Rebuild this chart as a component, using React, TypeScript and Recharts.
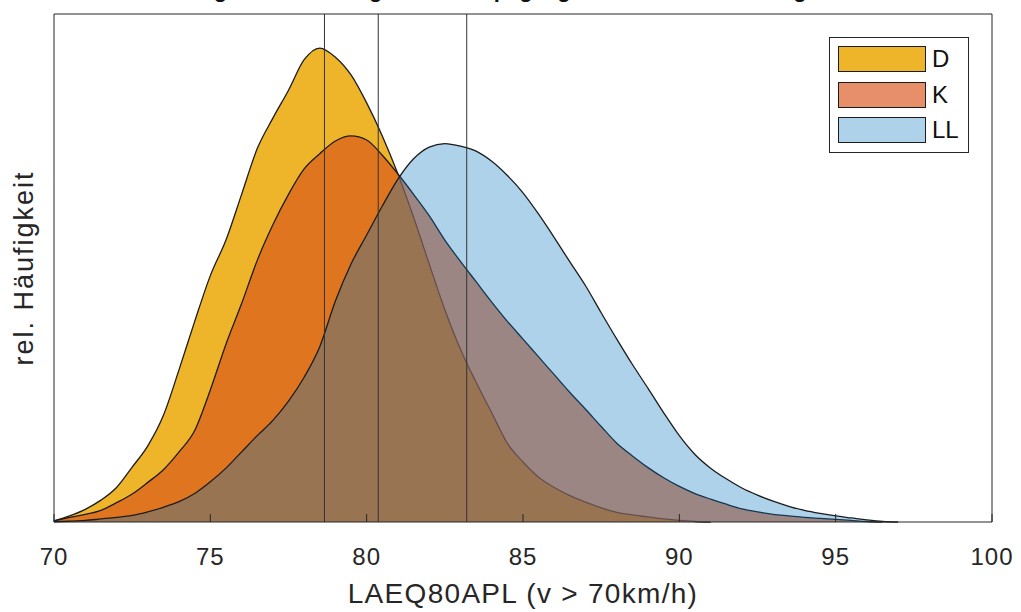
import React from 'react';
import {
  AreaChart,
  Area,
  XAxis,
  YAxis,
  ReferenceLine,
  ReferenceArea,
  Legend,
} from 'recharts';

// level bins (dB)
const levels = [
  70, 70.5, 71, 71.5, 72, 72.5, 73, 73.5, 74, 74.5, 75, 75.5, 76, 76.5, 77, 77.5, 78, 78.5,
  79, 79.5, 80, 80.5, 81, 81.5, 82, 82.5, 83, 83.5, 84, 84.5, 85, 85.5, 86, 86.5, 87, 87.5,
  88, 88.5, 89, 89.5, 90, 90.5, 91, 91.5, 92, 92.5, 93, 93.5, 94, 94.5, 95, 95.5, 96, 96.5, 97,
];

const dValues = [
  0.2, 1.2, 2.5, 4.3, 6.8, 10.8, 15.0, 21.0, 30.0, 39.5, 48.5, 55.5, 64.5, 73.5, 79.5, 85.0, 91.0, 93.3,
  91.5, 88.0, 82.5, 76.0, 68.5, 60.0, 50.8, 41.8, 34.0, 27.5, 21.5, 15.5, 11.8, 8.8, 6.8, 5.2, 3.9, 2.8,
  1.9, 1.4, 1.0, 0.6, 0.3, 0.1, 0, null, null, null, null, null, null, null, null, null, null, null, null,
];

const kValues = [
  0.2, 0.9, 1.5, 2.3, 3.8, 5.5, 7.8, 10.3, 13.8, 18.0, 26.0, 35.0, 43.0, 51.5, 58.5, 64.5, 69.5, 72.5,
  75.0, 76.0, 75.2, 72.2, 68.5, 64.5, 60.3, 55.5, 51.3, 47.3, 43.3, 39.5, 36.0, 32.5, 29.0, 25.5, 22.2, 18.8,
  15.5, 13.0, 10.7, 8.7, 7.0, 5.6, 4.5, 3.5, 2.6, 2.0, 1.5, 1.2, 0.9, 0.7, 0.5, 0.3, 0.1, 0, null,
];

const llValues = [
  0.05, 0.15, 0.3, 0.6, 0.9, 1.3, 2.0, 2.9, 4.0, 5.6, 7.9, 10.6, 13.8, 17.0, 20.0, 23.8, 28.5, 34.5,
  43.5, 50.8, 56.5, 62.2, 67.5, 71.5, 73.8, 74.5, 74.0, 73.0, 71.0, 68.2, 64.8, 60.6, 56.0, 51.2, 46.5, 41.2,
  36.0, 31.0, 26.3, 21.5, 17.0, 13.3, 10.6, 8.5, 6.7, 5.3, 4.1, 3.1, 2.3, 1.7, 1.2, 0.8, 0.4, 0.1, 0,
];

// median lines
const medians = [78.65, 80.37, 83.2];
const xTicks = [70, 75, 80, 85, 90, 95, 100];

const series = [
  { key: 'D', color: '#EDB120', opacity: 0.95 },
  { key: 'K', color: '#D95319', opacity: 0.65 },
  { key: 'LL', color: '#0072BD', opacity: 0.32 },
];

const data = levels.map((x, i) => ({ x, D: dValues[i], K: kValues[i], LL: llValues[i] }));

const FONT = '"Liberation Sans", Arial, Helvetica, sans-serif';
const INK = '#262626';

function LegendBox() {
  return (
    <div
      style={{
        width: 140,
        height: 116,
        boxSizing: 'border-box',
        border: `1px solid ${INK}`,
        background: '#fff',
        padding: '8px 0 0 8px',
        fontFamily: FONT,
      }}
    >
      {series.map((s) => (
        <div key={s.key} style={{ display: 'flex', alignItems: 'center', height: 26, marginBottom: 9.5 }}>
          <div
            style={{
              width: 88,
              height: 26,
              boxSizing: 'border-box',
              border: '1.5px solid #1c1c1c',
              position: 'relative',
            }}
          >
            <div style={{ position: 'absolute', inset: 0, background: s.color, opacity: s.opacity }} />
          </div>
          <span style={{ marginLeft: 6, fontSize: 24, color: '#111', lineHeight: '26px' }}>{s.key}</span>
        </div>
      ))}
    </div>
  );
}

export default function App() {
  return (
    <div style={{ position: 'fixed', left: 0, top: 0, width: 1021, height: 612, background: '#fff', overflow: 'hidden' }}>
      <div
        style={{
          position: 'absolute',
          left: 523,
          top: -21,
          transform: 'translateX(-50%)',
          whiteSpace: 'nowrap',
          fontFamily: FONT,
          fontWeight: 'bold',
          fontSize: 22,
          lineHeight: '22px',
          color: '#111',
        }}
      >
        Häufigkeitsverteilung der Schallpegel getrennt nach Fahrzeugklassen
      </div>
      <div
        style={{
          position: 'absolute',
          left: 24,
          top: 268,
          transform: 'translate(-50%, -50%) rotate(-90deg)',
          whiteSpace: 'nowrap',
          fontFamily: FONT,
          fontSize: 27,
          letterSpacing: 2,
          color: INK,
        }}
      >
        rel. Häufigkeit
      </div>
      <AreaChart
        width={1021}
        height={612}
        data={data}
        margin={{ top: 14, right: 29, bottom: 0, left: 0 }}
        style={{ fontFamily: FONT }}
      >
        <XAxis
          dataKey="x"
          type="number"
          domain={[70, 100]}
          ticks={xTicks}
          height={90}
          axisLine={false}
          tickSize={-8}
          tickMargin={34}
          tickLine={{ stroke: INK }}
          tick={{ fill: INK, fontSize: 24, letterSpacing: 1 }}
          label={{
            value: 'LAEQ80APL (v > 70km/h)',
            position: 'insideBottom',
            offset: 9,
            fill: INK,
            fontSize: 28,
            letterSpacing: 1.3,
          }}
        />
        <XAxis
          xAxisId="top"
          orientation="top"
          dataKey="x"
          type="number"
          domain={[70, 100]}
          ticks={xTicks}
          height={0}
          axisLine={false}
          tickSize={-8}
          tickLine={{ stroke: INK }}
          tick={false}
        />
        <YAxis domain={[0, 100]} width={54} tick={false} tickLine={false} axisLine={false} />
        {series.map((s) => (
          <Area
            key={s.key}
            dataKey={s.key}
            type="monotone"
            fill={s.color}
            fillOpacity={s.opacity}
            stroke="#1c1c1c"
            strokeWidth={1.3}
            isAnimationActive={false}
            dot={false}
            activeDot={false}
          />
        ))}
        {medians.map((m) => (
          <ReferenceLine key={m} x={m} stroke="#333" strokeWidth={1} ifOverflow="visible" />
        ))}
        <ReferenceArea x1={70} x2={100} y1={0} y2={100} fill="none" stroke={INK} strokeWidth={1} ifOverflow="visible" />
        <Legend
          layout="horizontal"
          verticalAlign="middle"
          align="center"
          content={<LegendBox />}
          wrapperStyle={{ position: 'absolute', left: 829, top: 37, width: 140, height: 116 }}
        />
      </AreaChart>
    </div>
  );
}
